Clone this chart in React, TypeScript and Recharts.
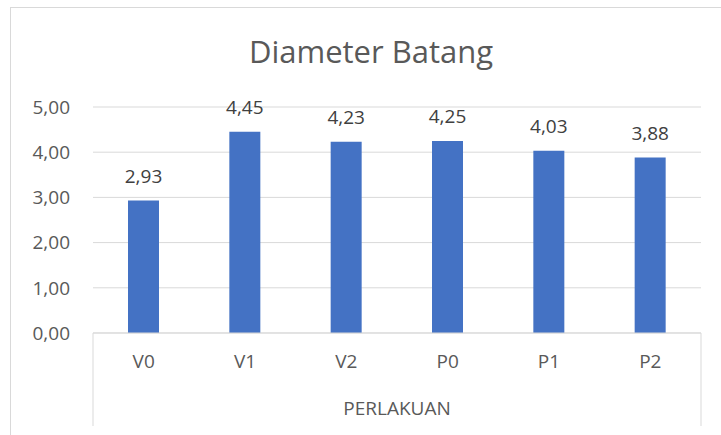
import React from "react";
import { BarChart, Bar, XAxis, YAxis, CartesianGrid, LabelList } from "recharts";

const categories = ["V0", "V1", "V2", "P0", "P1", "P2"];
const diameter = [2.93, 4.45, 4.23, 4.25, 4.03, 3.88];
const yTicks = [0, 1, 2, 3, 4, 5];

const font = "'Open Sans', sans-serif";
const gridColor = "#d9d9d9";
const textColor = "#595959";

const chartData = categories.map((c, i) => ({ name: c, value: diameter[i] }));

const fmt = (v: number) => v.toFixed(2).replace(".", ",");

// the box around the category labels plus the axis title below it
function CategoryBox(props: any) {
  const { x, y, width, height } = props.viewBox || {};
  if (x == null) return null;
  return (
    <g>
      <line x1={x} y1={y} x2={x} y2={y + height} stroke={gridColor} />
      <line x1={x + width} y1={y} x2={x + width} y2={y + height} stroke={gridColor} />
      <text
        x={x + width / 2}
        y={y + 77}
        textAnchor="middle"
        dominantBaseline="middle"
        fill={textColor}
        fontSize={19}
        fontFamily={font}
      >
        PERLAKUAN
      </text>
    </g>
  );
}

export default function App() {
  return (
    <div
      style={{
        position: "absolute",
        left: 0,
        top: 0,
        width: 721,
        height: 435,
        overflow: "hidden",
        background: "#fff",
      }}
    >
      <div
        style={{
          position: "absolute",
          left: 10,
          top: 7,
          width: 740,
          height: 460,
          border: `1px solid ${gridColor}`,
        }}
      />
      <div
        style={{
          position: "absolute",
          left: 0,
          width: 742,
          top: 29,
          textAlign: "center",
          fontFamily: font,
          fontSize: 31,
          lineHeight: "44px",
          color: textColor,
        }}
      >
        Diameter Batang
      </div>
      <div style={{ position: "absolute", left: 0, top: 0 }}>
        <BarChart
          width={721}
          height={435}
          data={chartData}
          margin={{ top: 107, right: 20, bottom: 9, left: 0 }}
        >
          <CartesianGrid vertical={false} stroke={gridColor} />
          <YAxis
            width={93}
            domain={[0, 5]}
            ticks={yTicks}
            tickFormatter={fmt}
            axisLine={false}
            tickLine={false}
            tickSize={0}
            tickMargin={23}
            tick={{ fill: textColor, fontSize: 19, fontFamily: font }}
          />
          <XAxis
            dataKey="name"
            height={93}
            axisLine={{ stroke: gridColor }}
            tickLine={false}
            tickSize={0}
            tickMargin={22}
            tick={{ fill: textColor, fontSize: 19, fontFamily: font }}
            label={{ content: CategoryBox }}
          />
          <Bar dataKey="value" fill="#4472c4" barSize={31} isAnimationActive={false}>
            <LabelList
              dataKey="value"
              position="top"
              offset={18}
              formatter={(v: any) => fmt(Number(v))}
              style={{ fill: "#404040", fontSize: 19, fontFamily: font }}
            />
          </Bar>
        </BarChart>
      </div>
    </div>
  );
}
